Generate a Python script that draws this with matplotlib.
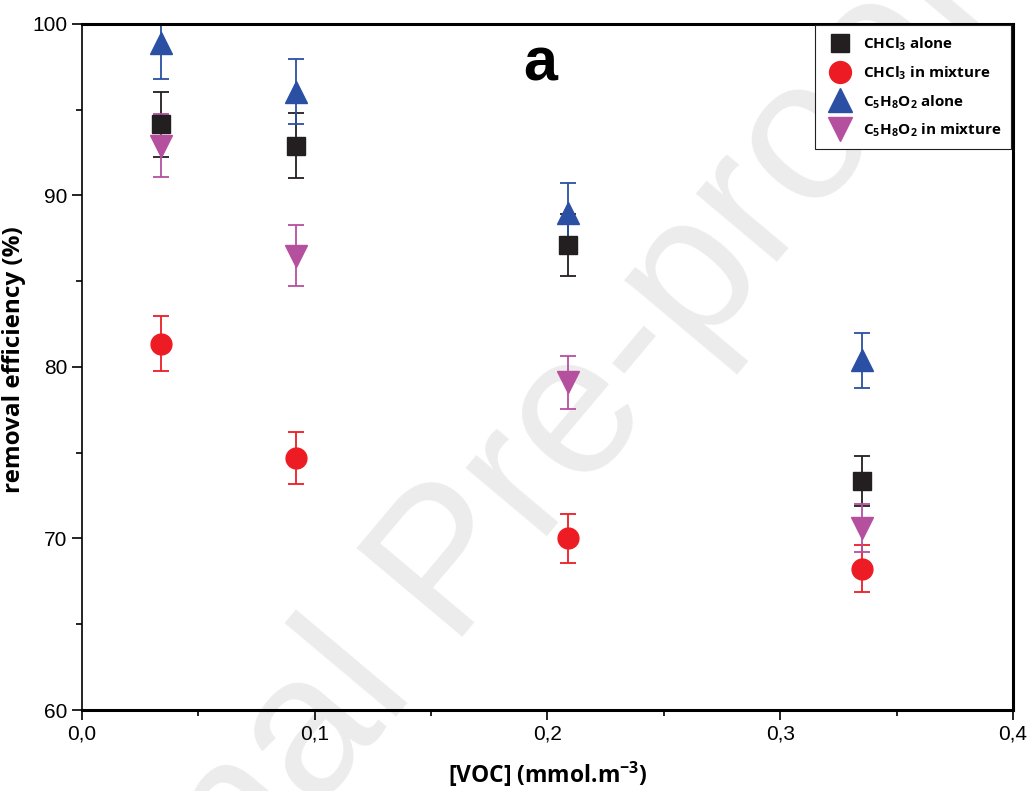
import matplotlib
matplotlib.use("Agg")
import matplotlib.pyplot as plt
from matplotlib.lines import Line2D
from matplotlib.ticker import MultipleLocator, FuncFormatter

# VOC concentration (mmol.m-3)
voc = [0.034, 0.092, 0.209, 0.335]

# removal efficiency (%) and error bars
chcl3_alone = [94.15, 92.9, 87.1, 73.35]
chcl3_alone_err = [1.9, 1.9, 1.8, 1.45]
chcl3_mix = [81.35, 74.7, 70.0, 68.25]
chcl3_mix_err = [1.6, 1.5, 1.4, 1.35]
c5_alone = [98.9, 96.05, 89.0, 80.4]
c5_alone_err = [2.1, 1.9, 1.75, 1.6]
c5_mix = [92.9, 86.5, 79.1, 70.6]
c5_mix_err = [1.85, 1.75, 1.55, 1.4]

plt.rcParams["mathtext.fontset"] = "custom"
plt.rcParams["mathtext.rm"] = "Open Sans"
plt.rcParams["mathtext.bf"] = "Open Sans:bold"

fig = plt.figure(figsize=(10.31, 7.91), dpi=100)
ax = fig.add_axes([0.0795, 0.1024, 0.903, 0.8673])
ax.set_facecolor("none")

# watermark, kept behind the axes
fig.text(0.47, 0.33, "Journal Pre-proofs", fontsize=145, color="#ececec",
         rotation=50, ha="center", va="center", family="Liberation Sans", zorder=-5)

series = [
    (chcl3_alone, chcl3_alone_err, "s", 13, "#231f20", r"CHCl$_\mathbf{3}$ alone"),
    (chcl3_mix, chcl3_mix_err, "o", 15, "#ed1c24", r"CHCl$_\mathbf{3}$ in mixture"),
    (c5_alone, c5_alone_err, "^", 16, "#2b4fa2", r"C$_\mathbf{5}$H$_\mathbf{8}$O$_\mathbf{2}$ alone"),
    (c5_mix, c5_mix_err, "v", 16, "#b5509f", r"C$_\mathbf{5}$H$_\mathbf{8}$O$_\mathbf{2}$ in mixture"),
]
handles = []
for vals, err, mk, ms, col, lab in series:
    ax.errorbar(voc, vals, yerr=err, fmt=mk, ms=ms, color=col, mec=col,
                ecolor=col, elinewidth=1.3, capsize=6, capthick=1.3)
    # legend shows the marker only, no error bar
    handles.append(Line2D([], [], ls="none", marker=mk, ms=ms, color=col, label=lab))

ax.set_xlim(0, 0.4)
ax.set_ylim(60, 100)
ax.xaxis.set_major_locator(MultipleLocator(0.1))
ax.xaxis.set_minor_locator(MultipleLocator(0.05))
ax.yaxis.set_major_locator(MultipleLocator(10))
ax.yaxis.set_minor_locator(MultipleLocator(5))
ax.xaxis.set_major_formatter(FuncFormatter(lambda v, p: f"{v:.1f}".replace(".", ",")))
ax.tick_params(which="major", direction="out", length=7, width=1.2, labelsize=15)
ax.tick_params(which="minor", direction="out", length=4, width=1.2)
for lab in ax.get_xticklabels() + ax.get_yticklabels():
    lab.set_family("Liberation Sans")

for side in ["top", "right", "bottom"]:
    ax.spines[side].set_linewidth(2.2)
ax.spines["left"].set_linewidth(1.2)

ax.set_xlabel(r"[VOC] (mmol.m$^\mathbf{-3}$)", labelpad=12, family="Open Sans",
              fontweight="bold", fontsize=16.5)
ax.set_ylabel("removal efficiency (%)", family="Open Sans",
              fontweight="bold", fontsize=17.5)
ax.yaxis.set_label_coords(-0.06, 0.51)

ax.text(0.492, 0.94, "a", transform=ax.transAxes, fontsize=44, fontweight="bold",
        family="Liberation Sans", ha="center", va="center")

leg = ax.legend(handles=handles, loc="upper right", frameon=True, fancybox=False,
                edgecolor="#231f20", framealpha=1, borderaxespad=0.1, handletextpad=0.5,
                labelspacing=0.72, borderpad=0.65, markerscale=1.05,
                prop=dict(family="Open Sans", weight="bold", size=11))
leg.get_frame().set_linewidth(0.8)

fig.savefig("out.png", dpi=100)
